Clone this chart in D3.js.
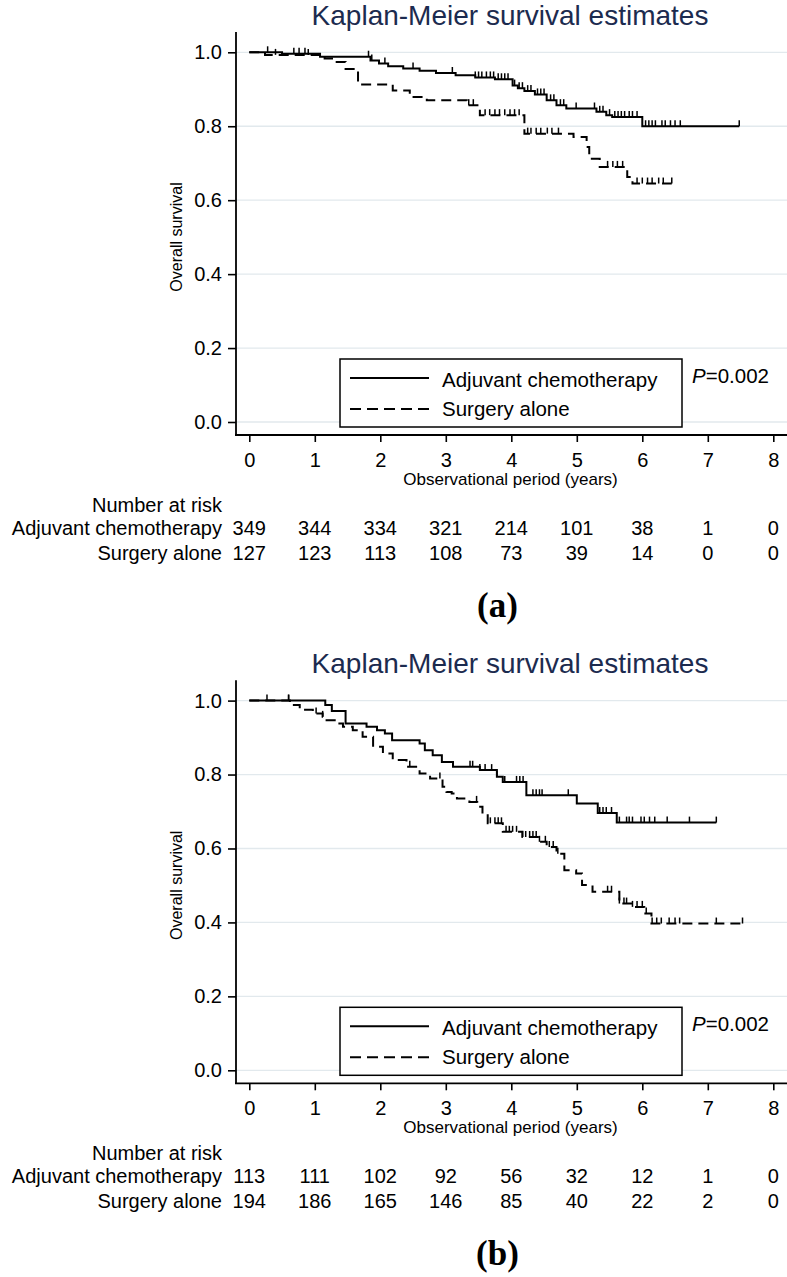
<!DOCTYPE html>
<html>
<head>
<meta charset="utf-8">
<script src="https://cdn.jsdelivr.net/npm/d3@7"></script>
<style>
html,body{margin:0;padding:0;background:#fff;}
svg{display:block;}
</style>
</head>
<body>
<svg id="chart" width="787" height="1277"></svg>
<script>
// ---------- DATA ----------
const xTickValues = [0, 1, 2, 3, 4, 5, 6, 7, 8];
const yTickValues = [0, 0.2, 0.4, 0.6, 0.8, 1.0];
const groupNames = ["Adjuvant chemotherapy", "Surgery alone"];
const titleText = "Kaplan-Meier survival estimates";
const pValueText = "0.002";

// Panel (a)
const riskA_adj  = [349, 344, 334, 321, 214, 101, 38, 1, 0];
const riskA_surg = [127, 123, 113, 108, 73, 39, 14, 0, 0];

const a_adj_t = [0, 0.5, 1.08, 1.85, 1.98, 2.12, 2.35, 2.6, 2.85, 3.15, 3.45, 3.75, 4.02, 4.1, 4.2, 4.36, 4.54, 4.69, 4.84, 5.3, 5.45, 5.54, 6.0];
const a_adj_s = [1, 0.996, 0.988, 0.978, 0.970, 0.962, 0.956, 0.950, 0.944, 0.938, 0.932, 0.927, 0.910, 0.903, 0.895, 0.886, 0.870, 0.857, 0.848, 0.839, 0.830, 0.825, 0.800];
const a_adj_end = 7.48;
const a_adj_cens = [0.28, 0.68, 0.76, 0.85, 1.82, 1.87, 2.07, 2.5, 3.1, 3.45, 3.5, 3.55, 3.62, 3.68, 3.73, 3.8, 3.85, 3.9, 3.95, 4.05, 4.12, 4.17, 4.25, 4.3, 4.4, 4.45, 4.5, 4.6, 4.65, 4.75, 4.8, 4.99, 5.27, 5.35, 5.4, 5.5, 5.58, 5.63, 5.68, 5.73, 5.8, 5.85, 5.92, 6.05, 6.1, 6.15, 6.2, 6.3, 6.35, 6.43, 6.5, 6.58, 7.48];

const a_surg_t = [0, 0.24, 1.15, 1.28, 1.47, 1.66, 2.19, 2.45, 2.71, 3.32, 3.52, 4.2, 4.95, 5.15, 5.19, 5.35, 5.77, 5.85];
const a_surg_s = [1, 0.993, 0.983, 0.974, 0.955, 0.913, 0.897, 0.879, 0.870, 0.857, 0.830, 0.780, 0.771, 0.744, 0.712, 0.690, 0.663, 0.645];
const a_surg_end = 6.45;
const a_surg_cens = [0.4, 0.9, 3.35, 3.42, 3.6, 3.67, 3.75, 3.82, 3.9, 3.98, 4.05, 4.12, 4.25, 4.3, 4.38, 4.45, 4.55, 4.62, 4.72, 5.47, 5.55, 5.62, 5.7, 5.92, 6.0, 6.08, 6.15, 6.25, 6.32, 6.45];

// Panel (b)
const riskB_adj  = [113, 111, 102, 92, 56, 32, 12, 1, 0];
const riskB_surg = [194, 186, 165, 146, 85, 40, 22, 2, 0];

const b_adj_t = [0, 1.16, 1.26, 1.47, 1.79, 1.95, 2.07, 2.18, 2.60, 2.68, 2.80, 2.94, 3.11, 3.52, 3.78, 3.87, 4.23, 5.00, 5.32, 5.61];
const b_adj_s = [1, 0.988, 0.972, 0.938, 0.929, 0.920, 0.911, 0.893, 0.884, 0.866, 0.852, 0.834, 0.821, 0.812, 0.794, 0.780, 0.744, 0.722, 0.696, 0.670];
const b_adj_end = 7.13;
const b_adj_cens = [0.27, 0.6, 3.37, 3.41, 3.52, 3.6, 3.7, 3.78, 3.9, 4.08, 4.13, 4.18, 4.33, 4.38, 4.43, 4.47, 4.87, 5.35, 5.4, 5.45, 5.53, 5.65, 5.76, 5.8, 5.85, 5.98, 6.03, 6.11, 6.19, 6.38, 6.72, 7.13];

const b_surg_t = [0, 0.62, 0.77, 0.97, 1.12, 1.18, 1.34, 1.43, 1.58, 1.73, 1.89, 2.04, 2.19, 2.40, 2.60, 2.76, 2.95, 3.01, 3.09, 3.17, 3.36, 3.48, 3.56, 3.64, 3.87, 4.17, 4.43, 4.54, 4.69, 4.81, 4.99, 5.08, 5.24, 5.65, 5.85, 6.03, 6.14];
const b_surg_s = [1, 0.988, 0.975, 0.965, 0.956, 0.947, 0.938, 0.929, 0.920, 0.902, 0.875, 0.857, 0.839, 0.821, 0.803, 0.789, 0.767, 0.753, 0.749, 0.735, 0.726, 0.713, 0.690, 0.668, 0.645, 0.631, 0.618, 0.604, 0.586, 0.541, 0.532, 0.501, 0.483, 0.451, 0.442, 0.424, 0.397];
const b_surg_end = 7.53;
const b_surg_cens = [0.6, 1.02, 1.12, 2.45, 2.91, 3.47, 3.68, 3.75, 3.8, 3.85, 3.92, 3.97, 4.02, 4.08, 4.17, 4.22, 4.28, 4.33, 4.38, 4.43, 4.52, 4.58, 4.64, 4.71, 5.47, 5.53, 5.65, 5.72, 5.76, 5.85, 5.92, 6.0, 6.06, 6.15, 6.22, 6.29, 6.41, 6.5, 6.57, 7.13, 7.53];

// ---------- DRAWING ----------
const FONT = "'Liberation Sans', Arial, Helvetica, sans-serif";
const svg = d3.select("#chart");

function panel(offsetY, adj, surg, riskAdj, riskSurg, label) {
  const g = svg.append("g").attr("transform", `translate(0,${offsetY})`);
  const x = d3.scaleLinear().domain([0, 8]).range([249.3, 773.3]);
  const y = d3.scaleLinear().domain([0, 1]).range([422, 52.3]);

  // title
  g.append("text").attr("x", 510).attr("y", 24.5).attr("text-anchor", "middle")
    .attr("font-family", FONT).attr("font-size", 28).attr("fill", "#1c2b4f")
    .text(titleText);

  // gridlines
  g.append("g").selectAll("line").data(yTickValues).join("line")
    .attr("x1", 236).attr("x2", 787)
    .attr("y1", d => y(d)).attr("y2", d => y(d))
    .attr("stroke", "#e2e9ed").attr("stroke-width", 1.3);

  // y axis
  const ya = g.append("g").attr("transform", "translate(236,0)")
    .call(d3.axisLeft(y).tickValues(yTickValues).tickFormat(d3.format(".1f")).tickSize(8).tickPadding(6).tickSizeOuter(0));
  ya.select(".domain").remove();
  ya.selectAll(".tick line").attr("stroke", "#000").attr("stroke-width", 1.6);
  ya.selectAll(".tick text").attr("font-family", FONT).attr("font-size", 20).attr("fill", "#000");
  g.append("line").attr("x1", 236).attr("x2", 236).attr("y1", 32).attr("y2", 435.8)
    .attr("stroke", "#000").attr("stroke-width", 1.8);

  // x axis
  const xa = g.append("g").attr("transform", "translate(0,435)")
    .call(d3.axisBottom(x).tickValues(xTickValues).tickFormat(d3.format("d")).tickSize(7).tickPadding(11).tickSizeOuter(0));
  xa.select(".domain").remove();
  xa.selectAll(".tick line").attr("stroke", "#000").attr("stroke-width", 1.6);
  xa.selectAll(".tick text").attr("font-family", FONT).attr("font-size", 20).attr("fill", "#000");
  g.append("line").attr("x1", 235).attr("x2", 787).attr("y1", 435).attr("y2", 435)
    .attr("stroke", "#000").attr("stroke-width", 1.8);

  // axis titles
  g.append("text").attr("x", 510.5).attr("y", 485).attr("text-anchor", "middle")
    .attr("font-family", FONT).attr("font-size", 17).text("Observational period (years)");
  g.append("text").attr("transform", "translate(181.5,237) rotate(-90)").attr("text-anchor", "middle")
    .attr("font-family", FONT).attr("font-size", 16).text("Overall survival");

  // curves
  const line = d3.line().x(d => x(d[0])).y(d => y(d[1])).curve(d3.curveStepAfter);
  function drawCurve(c, dash) {
    const pts = c.t.map((t, i) => [t, c.s[i]]);
    pts.push([c.end, c.s[c.s.length - 1]]);
    g.append("path").datum(pts).attr("d", line).attr("fill", "none")
      .attr("stroke", "#000").attr("stroke-width", 2)
      .attr("stroke-dasharray", dash ? "10,6" : null);
    g.append("g").selectAll("line").data(c.cens).join("line")
      .attr("x1", d => x(d)).attr("x2", d => x(d))
      .attr("y1", d => y(c.s[d3.bisectRight(c.t, d) - 1]))
      .attr("y2", d => y(c.s[d3.bisectRight(c.t, d) - 1]) - 6)
      .attr("stroke", "#000").attr("stroke-width", 1.5);
  }
  drawCurve(adj, false);
  drawCurve(surg, true);

  // legend
  g.append("rect").attr("x", 340).attr("y", 359).attr("width", 342).attr("height", 68)
    .attr("fill", "#fff").attr("stroke", "#000").attr("stroke-width", 1.5);
  g.append("line").attr("x1", 350).attr("x2", 429).attr("y1", 378).attr("y2", 378)
    .attr("stroke", "#000").attr("stroke-width", 2);
  g.append("line").attr("x1", 350).attr("x2", 429).attr("y1", 409).attr("y2", 409)
    .attr("stroke", "#000").attr("stroke-width", 2).attr("stroke-dasharray", "11,6");
  g.append("text").attr("x", 442).attr("y", 387).attr("font-family", FONT).attr("font-size", 20.5).text(groupNames[0]);
  g.append("text").attr("x", 442).attr("y", 416).attr("font-family", FONT).attr("font-size", 20.5).text(groupNames[1]);

  // p value
  const pt = g.append("text").attr("x", 692).attr("y", 383).attr("font-family", FONT).attr("font-size", 20.5);
  pt.append("tspan").attr("font-style", "italic").text("P");
  pt.append("tspan").text("=" + pValueText);

  // number at risk
  g.append("text").attr("x", 222).attr("y", 512).attr("text-anchor", "end")
    .attr("font-family", FONT).attr("font-size", 20).text("Number at risk");
  [[groupNames[0], riskAdj, 535], [groupNames[1], riskSurg, 559.5]].forEach(([name, vals, yy]) => {
    g.append("text").attr("x", 222).attr("y", yy).attr("text-anchor", "end")
      .attr("font-family", FONT).attr("font-size", 20).text(name);
    g.append("g").selectAll("text").data(vals).join("text")
      .attr("x", (d, i) => x(xTickValues[i])).attr("y", yy).attr("text-anchor", "middle")
      .attr("font-family", FONT).attr("font-size", 20).text(d => d);
  });

  // panel label
  g.append("text").attr("x", 497.5).attr("y", 617).attr("text-anchor", "middle")
    .attr("font-family", "'Liberation Serif', 'Times New Roman', serif").attr("font-weight", "bold")
    .attr("font-size", 35).text(label);
}

panel(0,
  {t: a_adj_t, s: a_adj_s, end: a_adj_end, cens: a_adj_cens},
  {t: a_surg_t, s: a_surg_s, end: a_surg_end, cens: a_surg_cens},
  riskA_adj, riskA_surg, "(a)");
panel(648.3,
  {t: b_adj_t, s: b_adj_s, end: b_adj_end, cens: b_adj_cens},
  {t: b_surg_t, s: b_surg_s, end: b_surg_end, cens: b_surg_cens},
  riskB_adj, riskB_surg, "(b)");
</script>
</body>
</html>
